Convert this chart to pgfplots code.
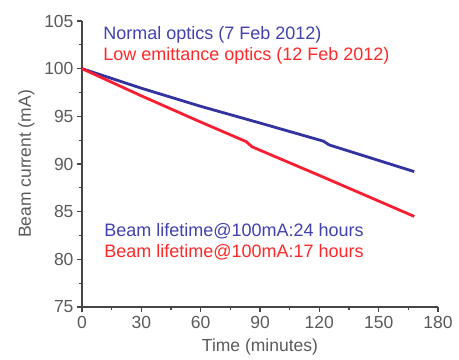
\documentclass[border=0pt]{standalone}
\usepackage{fontspec}
\setmainfont{Liberation Sans}
\usepackage{pgfplots}
\pgfplotsset{compat=1.18}
\definecolor{nblue}{RGB}{50,50,160}
\definecolor{nred}{RGB}{250,30,50}
\definecolor{tblue}{RGB}{65,65,175}
\definecolor{tred}{RGB}{255,40,40}
\definecolor{axgray}{RGB}{70,70,70}
\definecolor{tkgray}{RGB}{90,90,90}
\begin{document}
\begin{tikzpicture}
\begin{axis}[
  name=ax,
  scale only axis,
  width=356pt, height=286pt,
  xmin=0, xmax=180, ymin=75, ymax=105,
  axis lines=left,
  axis line style={axgray, line width=1.5pt, -},
  xtick={0,30,...,180}, ytick={75,80,...,105},
  minor x tick num=1, minor y tick num=1,
  tick align=outside,
  major tick length=5pt, minor tick length=3pt,
  every tick/.style={axgray, line width=1.1pt},
  /pgf/number format/assume math mode=true,
  tick label style={font=\fontsize{17.5}{17.5}\selectfont, text=tkgray},
  xticklabel style={yshift=-1pt},
  xlabel={Time (minutes)}, ylabel={Beam current (mA)},
  label style={font=\fontsize{17.5}{17.5}\selectfont, text=tkgray},
  xlabel style={yshift=-3pt},
  ylabel style={yshift=3pt},
  clip=false,
]
\addplot[nblue, line width=2.8pt] coordinates {
  (0,100) (30,97.95) (60,96.05) (90,94.3) (122,92.4) (125,92.0) (168,89.2)};
\addplot[nred, line width=2.8pt] coordinates {
  (0,100) (30,97.15) (60,94.4) (83,92.35) (86,91.8) (120,88.8) (168,84.5)};
\node[anchor=west, text=tblue, font=\fontsize{18}{18}\selectfont] at (axis cs:9,103.5) {Normal optics (7 Feb 2012)};
\node[anchor=west, text=tred, font=\fontsize{18}{18}\selectfont] at (axis cs:9,101.3) {Low emittance optics (12 Feb 2012)};
\node[anchor=west, text=tblue, font=\fontsize{18}{18}\selectfont] at (axis cs:9.5,82.9) {Beam lifetime@100mA:24 hours};
\node[anchor=west, text=tred, font=\fontsize{18}{18}\selectfont] at (axis cs:9.5,80.7) {Beam lifetime@100mA:17 hours};
\end{axis}
\pgfresetboundingbox
\path ([shift={(-82pt,-53pt)}]ax.south west) rectangle ([shift={(21pt,21pt)}]ax.north east);
\end{tikzpicture}
\end{document}
